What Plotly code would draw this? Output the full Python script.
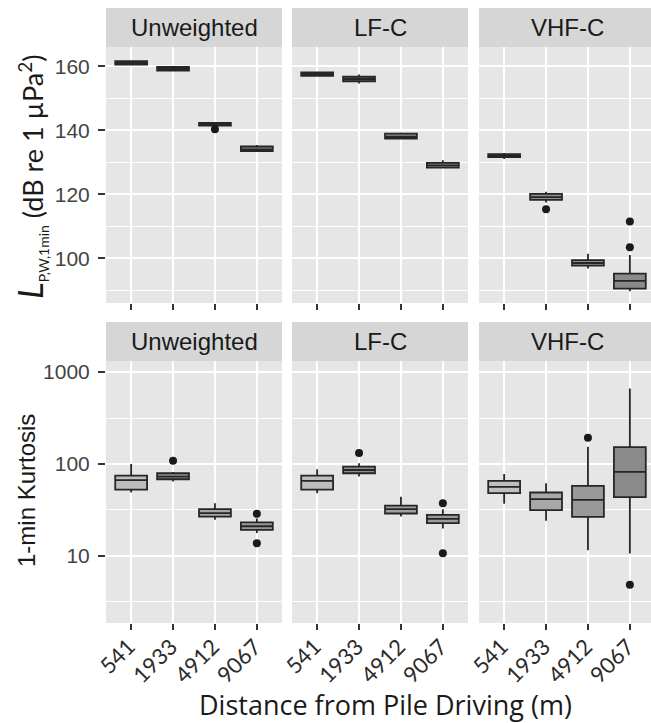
import plotly.graph_objects as go

# ---------------- data ----------------
distances = ["541", "1933", "4912", "9067"]
weightings = ["Unweighted", "LF-C", "VHF-C"]

# L_P,W,1min (dB re 1 uPa^2): rows = weighting, cols = distance
spl_lo  = [[160.2, 158.4, 141.2, 133.2], [156.9, 154.6, 137.3, 128.1], [131.0, 117.4, 96.8, 89.7]]
spl_q1  = [[160.5, 158.6, 141.4, 133.5], [157.0, 155.3, 137.4, 128.3], [131.6, 118.2, 97.7, 90.5]]
spl_med = [[161.0, 159.2, 141.9, 134.0], [157.5, 156.0, 138.0, 129.0], [132.0, 119.1, 98.5, 92.9]]
spl_q3  = [[161.6, 159.8, 142.3, 134.9], [158.1, 156.7, 138.9, 129.8], [132.5, 120.1, 99.4, 95.2]]
spl_hi  = [[161.8, 160.0, 142.6, 135.4], [158.3, 157.4, 139.3, 130.6], [132.9, 120.8, 101.4, 101.0]]
spl_out_w = ["Unweighted", "VHF-C", "VHF-C", "VHF-C"]
spl_out_d = ["4912", "1933", "9067", "9067"]
spl_out_v = [140.3, 115.3, 103.4, 111.5]

# 1-min kurtosis
kur_lo  = [[48.9, 64.3, 24.7, 17.7], [48.0, 73.0, 26.8, 19.9], [36.8, 24.1, 11.5, 10.6]]
kur_q1  = [[52.7, 68.2, 26.8, 19.2], [52.5, 79.2, 28.9, 22.7], [48.1, 31.4, 26.6, 43.5]]
kur_med = [[66.6, 73.0, 29.2, 21.0], [65.4, 86.0, 32.2, 25.3], [56.3, 41.4, 40.7, 81.9]]
kur_q3  = [[74.7, 79.2, 32.2, 23.1], [74.7, 93.6, 35.3, 28.0], [65.4, 48.9, 57.7, 152.8]]
kur_hi  = [[100.0, 82.0, 37.4, 25.5], [87.5, 102.0, 44.0, 32.2], [77.9, 61.7, 154.0, 662.0]]
kur_out_w = ["Unweighted", "Unweighted", "Unweighted", "LF-C", "LF-C", "LF-C", "VHF-C", "VHF-C"]
kur_out_d = ["1933", "9067", "9067", "1933", "9067", "9067", "4912", "9067"]
kur_out_v = [108.7, 28.7, 13.7, 132.0, 37.4, 10.7, 193.0, 4.86]

# ---------------- style ----------------
spl_fill = [["#8f8f8f"] * 4, ["#8f8f8f"] * 4, ["#8f8f8f", "#8f8f8f", "#8f8f8f", "#8a8a8a"]]
kur_fill = [["#bdbdbd", "#8f8f8f", "#a5a5a5", "#9a9a9a"],
            ["#bdbdbd", "#8f8f8f", "#a0a0a0", "#9a9a9a"],
            ["#bfbfbf", "#a8a8a8", "#999999", "#8a8a8a"]]

W, H = 651, 723
PANEL_BG = "#e6e6e6"
STRIP_BG = "#d6d6d6"
LINE = "#262626"
TICKC = "#444444"
SANS = "Liberation Sans, Arial, sans-serif"
HUM = "Lato, Open Sans, sans-serif"
OPEN = "Open Sans, Lato, sans-serif"

xpx = [(106, 282), (292, 468), (479, 651)]
ypx = [(47, 303), (361, 623)]      # panels (top, bottom in pixels)
strip_px = [(8, 47), (322, 361)]
unit = 176 / 4.2

def fx(p):
    return p / W

def fy(p):
    return 1 - p / H

fig = go.Figure()

rows = [
    (spl_lo, spl_q1, spl_med, spl_q3, spl_hi, spl_fill, spl_out_w, spl_out_d, spl_out_v),
    (kur_lo, kur_q1, kur_med, kur_q3, kur_hi, kur_fill, kur_out_w, kur_out_d, kur_out_v),
]

shapes = []
annotations = []
layout_axes = {}

for r, (lo, q1, med, q3, hi, fill, ow, od, ov) in enumerate(rows):
    for c, wname in enumerate(weightings):
        k = r * 3 + c + 1
        xa = "x" if k == 1 else f"x{k}"
        ya = "y" if k == 1 else f"y{k}"
        for j, d in enumerate(distances):
            fig.add_trace(go.Box(
                x=[d], q1=[q1[c][j]], median=[med[c][j]], q3=[q3[c][j]],
                lowerfence=[lo[c][j]], upperfence=[hi[c][j]],
                xaxis=xa, yaxis=ya, width=0.76, whiskerwidth=0,
                fillcolor=fill[c][j], line=dict(color=LINE, width=1.8),
                boxpoints=False, hoverinfo="skip", showlegend=False,
            ))
        oxs = [od[i] for i in range(len(ov)) if ow[i] == wname]
        oys = [ov[i] for i in range(len(ov)) if ow[i] == wname]
        if oxs:
            fig.add_trace(go.Scatter(
                x=oxs, y=oys, mode="markers", xaxis=xa, yaxis=ya,
                marker=dict(color="#1a1a1a", size=8), hoverinfo="skip", showlegend=False,
            ))

        x0, x1 = xpx[c]
        y0, y1 = ypx[r]
        nunits = (x1 - x0) / unit
        xkey = "xaxis" if k == 1 else f"xaxis{k}"
        ykey = "yaxis" if k == 1 else f"yaxis{k}"
        layout_axes[xkey] = dict(
            domain=[fx(x0), fx(x1)], anchor=ya,
            type="category", categoryorder="array", categoryarray=distances,
            range=[-0.6, -0.6 + nunits], showgrid=True, gridcolor="white", gridwidth=2,
            zeroline=False, showline=False, ticks="outside", ticklen=6, tickwidth=1.5,
            tickcolor="#333333", showticklabels=False, fixedrange=True,
        )
        if r == 1:
            # rotated category labels (category index used as position)
            for j, d in enumerate(distances):
                annotations.append(dict(
                    text=d, xref=xa, yref="paper", x=j, y=fy(630), xshift=12,
                    xanchor="right", yanchor="top", textangle=-45, showarrow=False,
                    font=dict(family=HUM, size=22, color="#2b2b2b")))
        if r == 0:
            yax = dict(range=[86, 166], tickmode="array", tickvals=[100, 120, 140, 160],
                       minor=dict(tickmode="array", tickvals=[90, 110, 130, 150],
                                  showgrid=True, gridcolor="white", gridwidth=1, ticks=""))
        else:
            yax = dict(type="log", range=[0.27, 3.12], tickmode="array", tickvals=[10, 100, 1000],
                       ticktext=["10", "100", "1000"],
                       minor=dict(tickmode="array", tickvals=[10 ** 0.5, 10 ** 1.5, 10 ** 2.5],
                                  showgrid=True, gridcolor="white", gridwidth=1, ticks=""))
        yax.update(domain=[fy(y1), fy(y0)], anchor=xa, showgrid=True, gridcolor="white",
                   gridwidth=2, zeroline=False, showline=False,
                   ticks="outside" if c == 0 else "", ticklen=7, tickwidth=1.5,
                   tickcolor="#333333", showticklabels=(c == 0), ticklabelstandoff=4,
                   tickfont=dict(family=SANS, size=21, color=TICKC), fixedrange=True)
        layout_axes[ykey] = yax

        xr = x1 if c < 2 else 656
        # panel background
        shapes.append(dict(type="rect", xref="paper", yref="paper", x0=fx(x0), x1=fx(x1),
                           y0=fy(y1), y1=fy(y0), fillcolor=PANEL_BG, line=dict(width=0),
                           layer="below"))
        # strip
        s0, s1 = strip_px[r]
        shapes.append(dict(type="rect", xref="paper", yref="paper", x0=fx(x0), x1=fx(x1),
                           y0=fy(s1), y1=fy(s0), fillcolor=STRIP_BG, line=dict(width=0),
                           layer="below"))
        annotations.append(dict(text=wname, xref="paper", yref="paper",
                                x=fx((x0 + xr) / 2), y=fy((s0 + s1) / 2),
                                xanchor="center", yanchor="middle", showarrow=False,
                                font=dict(family=SANS, size=24, color="#1a1a1a")))

# axis titles
annotations.append(dict(
    text="<i><span style='font-size:35px'>L</span></i><sub><span style='font-size:14px'>P,W,1min</span></sub>"
         " (dB re 1 µPa<sup>2</sup>)",
    xref="paper", yref="paper", x=fx(30), y=fy(177), textangle=-90,
    xanchor="center", yanchor="middle", showarrow=False,
    font=dict(family=HUM, size=27, color="#1a1a1a")))
annotations.append(dict(
    text="1-min Kurtosis", xref="paper", yref="paper", x=fx(26), y=fy(491), textangle=-90,
    xanchor="center", yanchor="middle", showarrow=False,
    font=dict(family=SANS, size=24, color="#1a1a1a")))
annotations.append(dict(
    text="Distance from Pile Driving (m)", xref="paper", yref="paper", x=fx(386), y=fy(704),
    xanchor="center", yanchor="middle", showarrow=False,
    font=dict(family=OPEN, size=27, color="#1a1a1a")))

fig.update_layout(
    width=W, height=H, margin=dict(l=0, r=0, t=0, b=0),
    paper_bgcolor="white", plot_bgcolor="rgba(0,0,0,0)",
    shapes=shapes, annotations=annotations, showlegend=False, hovermode=False,
    **layout_axes,
)

fig.write_html("out.html", config={"displayModeBar": False})
